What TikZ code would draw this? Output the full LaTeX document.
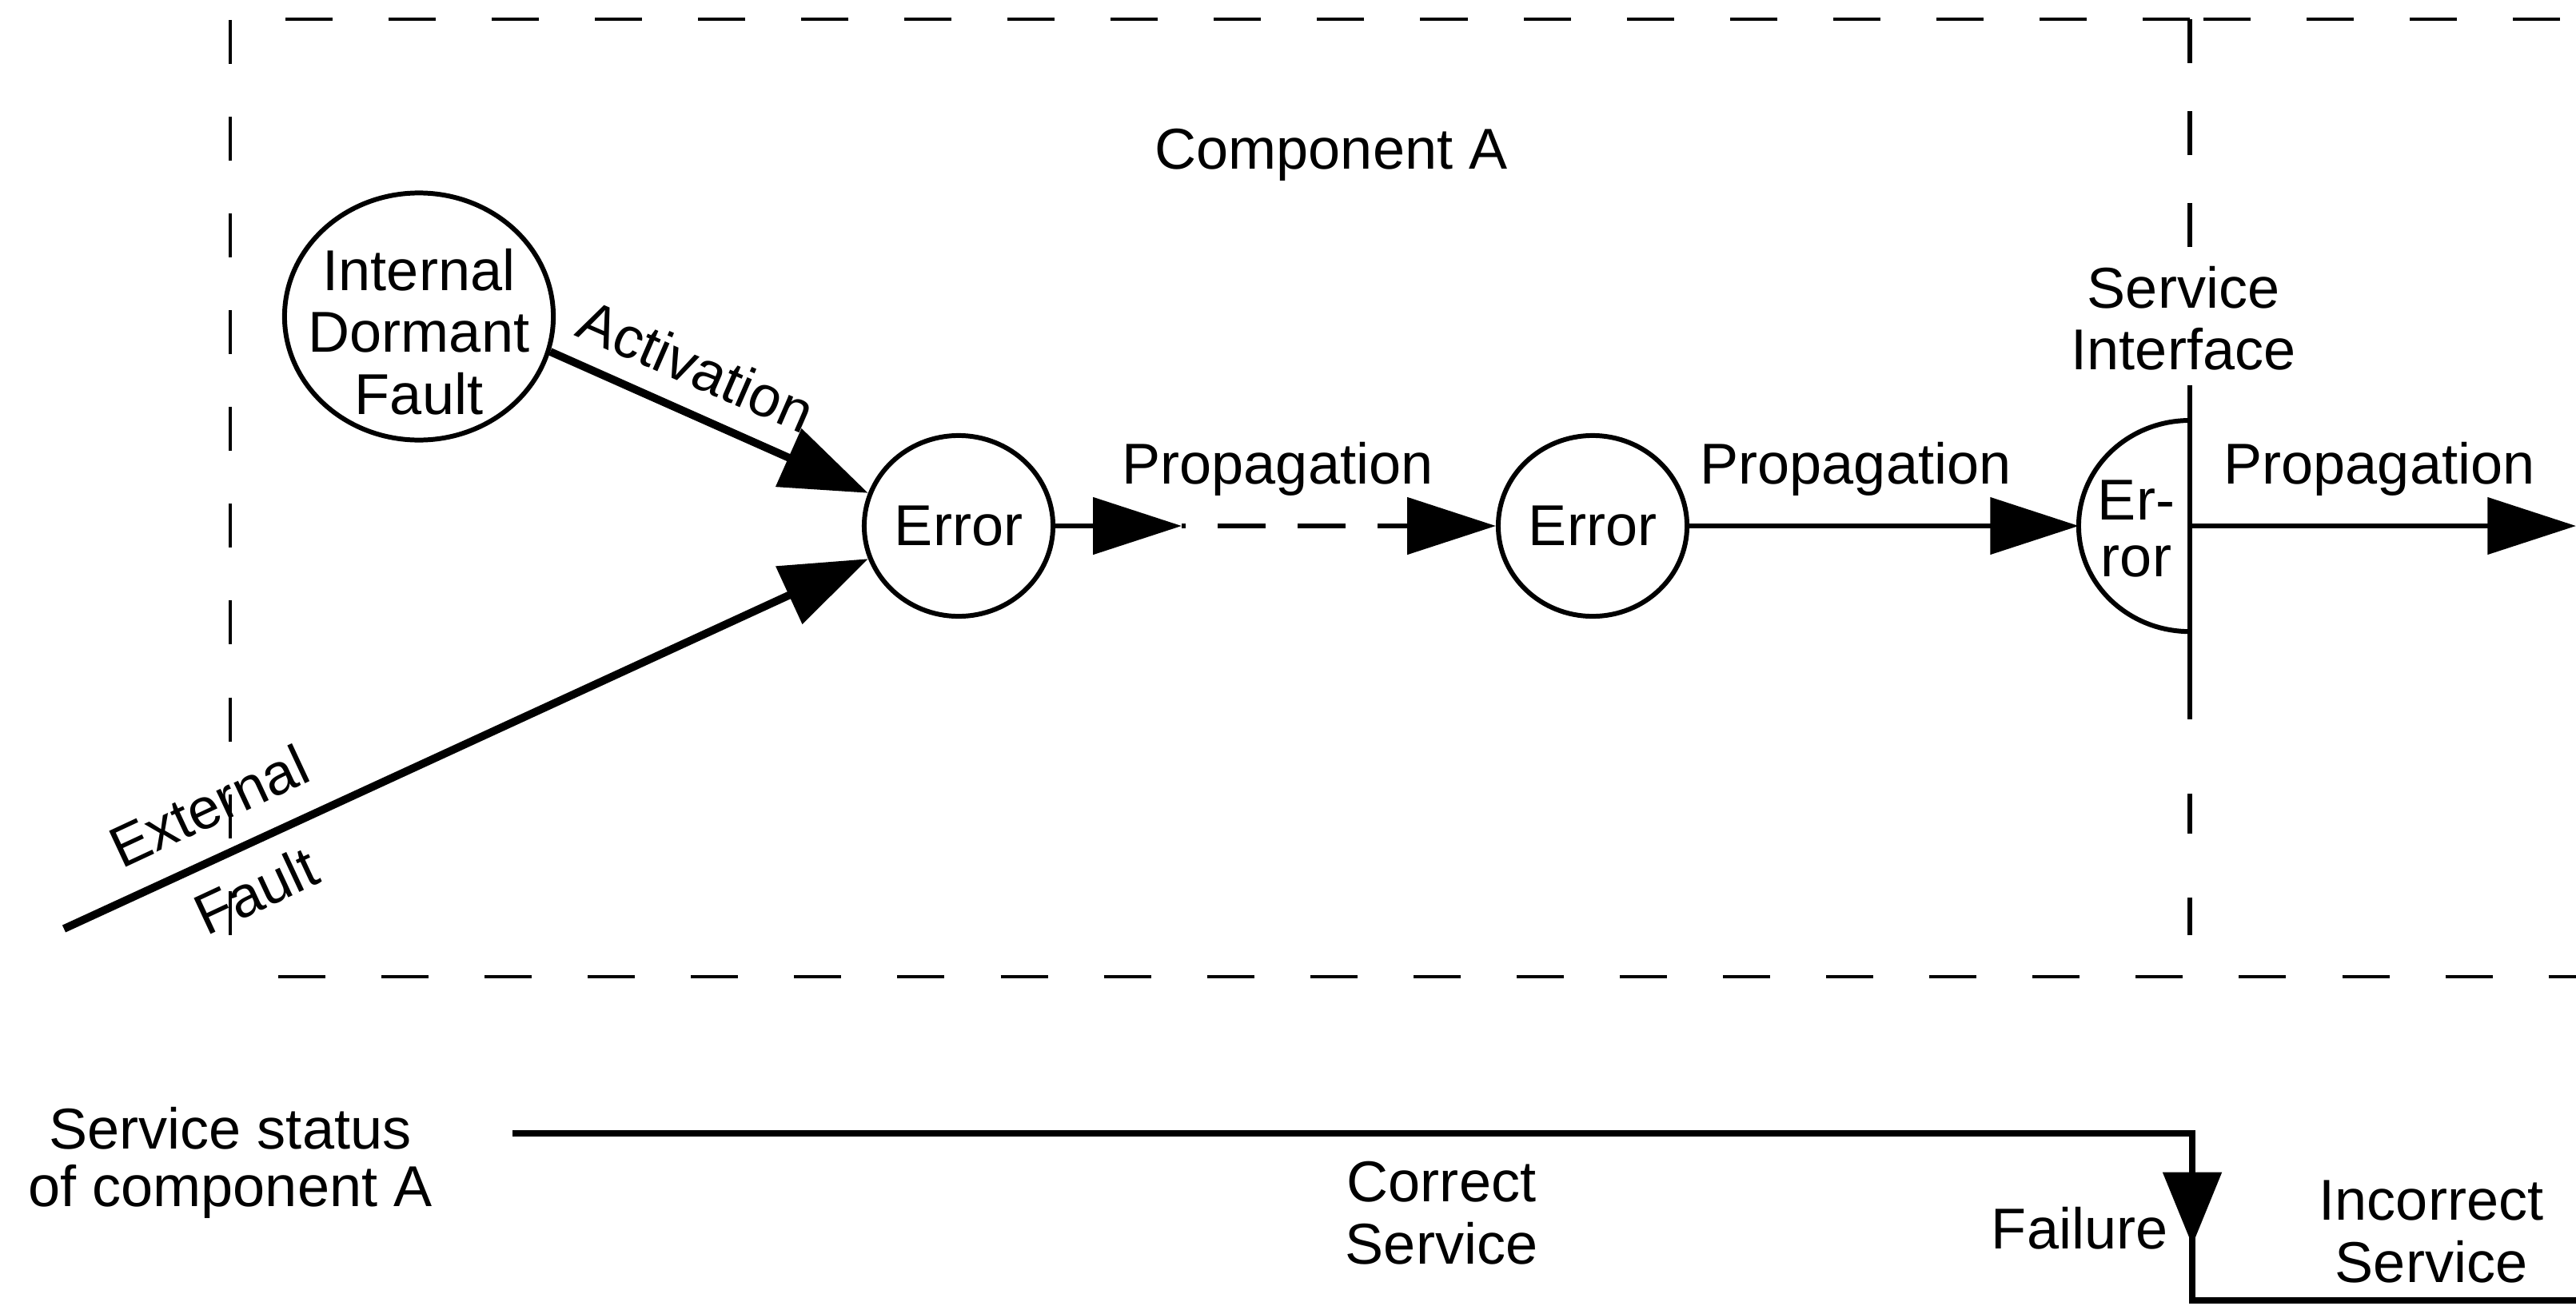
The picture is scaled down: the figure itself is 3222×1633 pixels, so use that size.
\documentclass[tikz,border=0pt]{standalone}
\usepackage{fontspec}
\setmainfont{Liberation Sans}
\usetikzlibrary{arrows.meta,shapes.geometric}
\begin{document}
\begin{tikzpicture}[x=0.01cm, y=-0.01cm,
  txt/.style={font=\fontsize{20.5pt}{22pt}\selectfont, inner sep=0pt, align=center, text=black},
  boxdash/.style={line width=1.3pt, dash pattern=on 0.59cm off 0.70cm},
  ifdash/.style={line width=1.5pt},
  errell/.style={draw, ellipse, line width=1.7pt, minimum width=2.36cm, minimum height=2.26cm, inner sep=0pt, font=\fontsize{20.5pt}{22pt}\selectfont},
  faultarrow/.style={line width=2.8pt, -{Triangle[length=31pt,width=22pt]}},
  proparrow/.style={line width=1.9pt, -{Triangle[length=31.5pt,width=20pt]}},
  statusline/.style={line width=2.4pt},
  ifline/.style={line width=1.9pt}]
\fill[white] (0,0) rectangle (3222,1633);
\useasboundingbox (0,0) rectangle (3222,1633);

% component box (dashed)
\draw[boxdash] (2739,24) -- (347,24);
\draw[boxdash] (2756,24) -- (3222,24);
\draw[boxdash, dash pattern=on 0.55cm off 0.66cm] (288,25) -- (288,1170);
\draw[boxdash] (348,1222) -- (3222,1222);

% service interface line
\draw[ifdash, dash pattern=on 0.55cm off 0.6cm] (2739,24) -- (2739,316);
\draw[ifline] (2739,482) -- (2739,900);
\draw[ifdash, dash pattern=on 0.5cm off 0.8cm] (2739,993) -- (2739,1170);

\node[txt, anchor=base] (comp) at (1665,211) {Component A};
\node[txt] (sif) at (2731,398) {Service\\Interface};

% nodes
\node[errell, minimum width=3.36cm, minimum height=3.09cm] (idf) at (524,396) {};
\node[txt] (idftext) at (524,415) {Internal\\Dormant\\Fault};
\node[errell] (e1) at (1199,658) {Error};
\node[errell] (e2) at (1992,658) {Error};
\coordinate (e3c) at (2739,658);
\coordinate (e3w) at (2600,658);
\draw[line width=1.7pt] (2739,526) arc[start angle=90, end angle=270, x radius=1.39cm, y radius=1.32cm];
\node[txt, font=\fontsize{20.5pt}{20.2pt}\selectfont] (e3) at (2672,662) {Er-\\ror};

% activation
\draw[faultarrow] (idf.-15.5) -- (e1.160);
\node[txt, rotate=-23.5] (act) at (871,458) {Activation};

% external fault
\coordinate (exs) at (80,1162);
\draw[faultarrow] (exs) -- (e1.-160);
\node[txt, rotate=25] (ext) at (261,1008) {External};
\node[txt, rotate=25] (fau) at (320,1114) {Fault};

% propagation
\coordinate (m1) at (1478,658);
\coordinate (p3end) at (3222,658);
\draw[proparrow] (e1.east) -- (m1);
\draw[proparrow, dash pattern=on 0.6cm off 0.4cm, dash phase=0.55cm] (m1) -- (e2.west);
\draw[proparrow] (e2.east) -- (e3w);
\draw[proparrow] (e3c) -- (p3end);
\node[txt, anchor=base] (p1) at (1598,605) {Propagation};
\node[txt, anchor=base] (p2) at (2321,605) {Propagation};
\node[txt, anchor=base] (p3) at (2976,605) {Propagation};

% service status
\node[txt, font=\fontsize{20.5pt}{20.5pt}\selectfont] (ss) at (288,1455) {Service status\\of component A};
\coordinate (sst) at (641,1418);
\coordinate (c1) at (2742,1418);
\coordinate (ftip) at (2742,1558);
\coordinate (c2) at (2742,1627);
\coordinate (c3) at (3222,1627);
\draw[statusline] (sst) -- (c1) -- (c2) -- (c3);
\draw[statusline, -{Triangle[length=26pt,width=20.5pt]}] (c1) -- (ftip);
\node[txt, font=\fontsize{20.5pt}{22.2pt}\selectfont] (cs) at (1803,1518) {Correct\\Service};
\node[txt, anchor=east] (fail) at (2712,1537) {Failure};
\node[txt] (ics) at (3041,1541) {Incorrect\\Service};
\end{tikzpicture}
\end{document}
